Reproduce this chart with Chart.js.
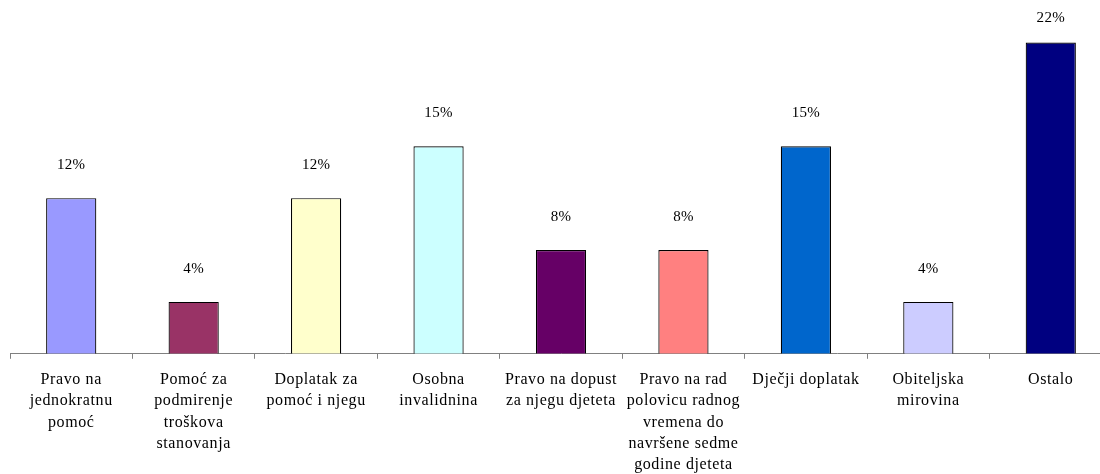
<!DOCTYPE html>
<html lang="hr">
<head>
  <meta charset="UTF-8" />
  <title>Prava iz socijalne skrbi</title>
  <script src="https://cdn.jsdelivr.net/npm/chart.js"></script>
  <style>
    html, body {
      margin: 0;
      padding: 0;
      background: #fff;
      overflow: hidden;
    }
    .chart-container {
      width: 1112px;
      height: 486px;
    }
  </style>
</head>
<body>
  <div class="chart-container">
    <canvas id="mainChart"></canvas>
  </div>

  <script>
    const categories = [
      ["Pravo na", "jednokratnu", "pomoć"],
      ["Pomoć za", "podmirenje", "troškova", "stanovanja"],
      ["Doplatak za", "pomoć i njegu"],
      ["Osobna", "invalidnina"],
      ["Pravo na dopust", "za njegu djeteta"],
      ["Pravo na rad", "polovicu radnog", "vremena do", "navršene sedme", "godine djeteta"],
      ["Dječji doplatak"],
      ["Obiteljska", "mirovina"],
      ["Ostalo"]
    ];
    // bar heights (counts) and the percentage labels printed above them
    const counts = [3, 1, 3, 4, 2, 2, 4, 1, 6];
    const percentLabels = ["12%", "4%", "12%", "15%", "8%", "8%", "15%", "4%", "22%"];
    const barColors = ["#9999FF", "#993366", "#FFFFCC", "#CCFFFF", "#660066",
                       "#FF8080", "#0066CC", "#CCCCFF", "#000080"];

    const font = "'Liberation Serif', 'Times New Roman', serif";

    // loose spacing like the original export
    const spacing = {
      id: "spacing",
      beforeDraw(chart) {
        chart.ctx.letterSpacing = "0.6px";
      }
    };

    const valueLabels = {
      id: "valueLabels",
      afterDatasetsDraw(chart) {
        const ctx = chart.ctx;
        const meta = chart.getDatasetMeta(0);
        ctx.save();
        ctx.letterSpacing = "0.3px";
        ctx.font = "15px " + font;
        ctx.fillStyle = "#000";
        ctx.textAlign = "center";
        ctx.textBaseline = "middle";
        meta.data.forEach((bar, i) => {
          ctx.fillText(percentLabels[i], bar.x, Math.max(bar.y - 33, 18));
        });
        ctx.restore();
      }
    };

    new Chart(document.getElementById("mainChart"), {
      type: "bar",
      data: {
        labels: categories,
        datasets: [{
          data: counts,
          backgroundColor: barColors,
          borderColor: "#000",
          borderWidth: 1.2,
          barPercentage: 0.41,
          categoryPercentage: 1
        }]
      },
      options: {
        responsive: true,
        maintainAspectRatio: false,
        animation: false,
        layout: { padding: { left: 10, top: 1, right: 0, bottom: 0 } },
        plugins: {
          legend: { display: false },
          tooltip: { enabled: false }
        },
        scales: {
          x: {
            grid: {
              drawOnChartArea: false,
              offset: true,
              tickLength: 5,
              color: "#808080"
            },
            border: { color: "#808080", width: 1 },
            ticks: {
              color: "#000",
              maxRotation: 0,
              autoSkip: false,
              padding: 10,
              font: { family: font, size: 16, lineHeight: 1.34 }
            }
          },
          y: {
            display: false,
            min: 0,
            max: 6.8
          }
        }
      },
      plugins: [spacing, valueLabels]
    });
  </script>
</body>
</html>
